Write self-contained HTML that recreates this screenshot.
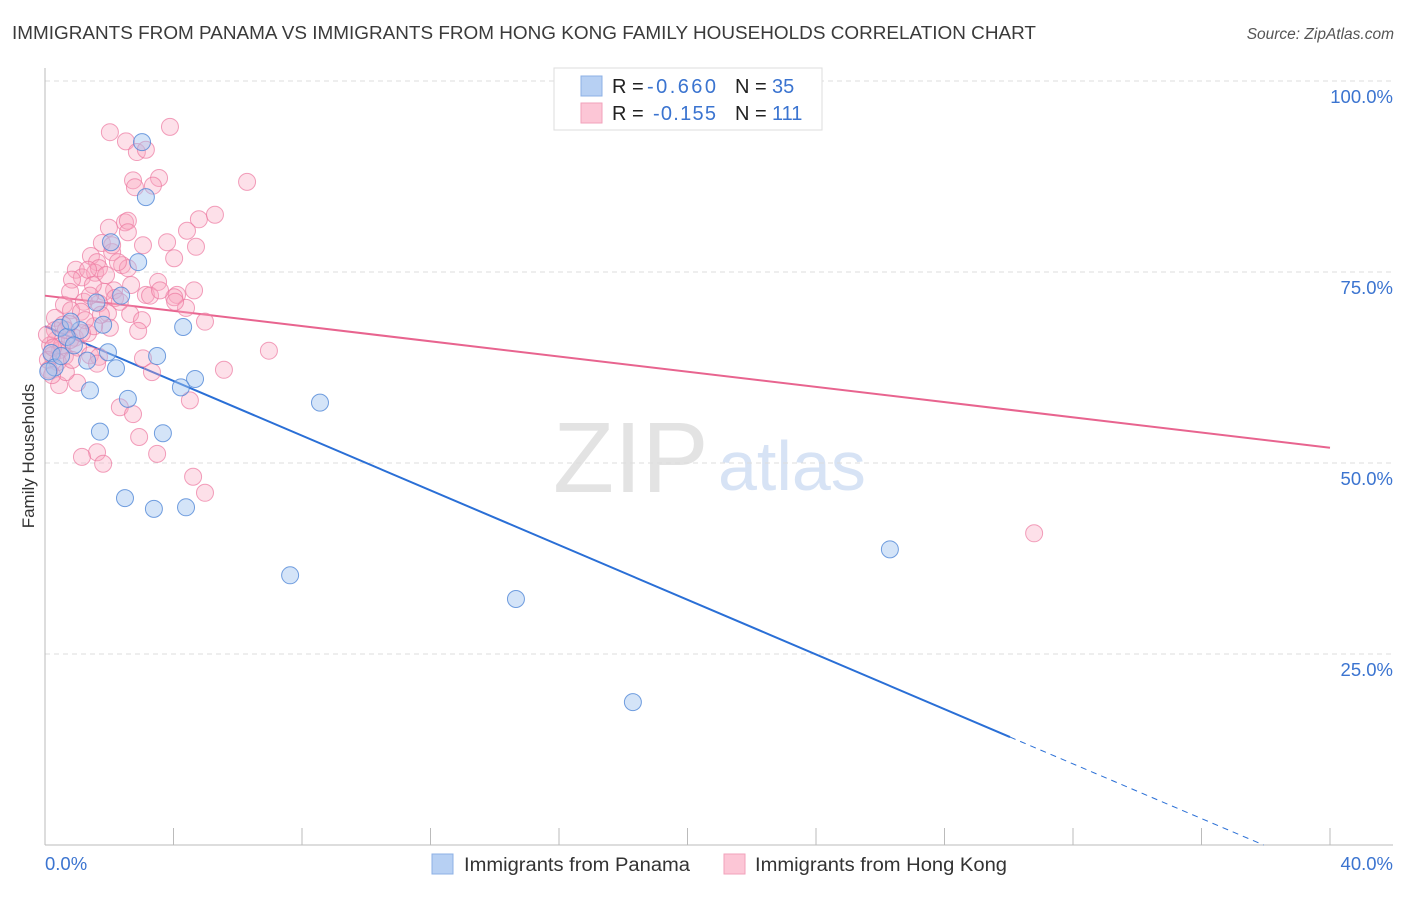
<!DOCTYPE html>
<html><head><meta charset="utf-8"><style>
body{margin:0;background:#fff;font-family:"Liberation Sans",sans-serif;}
svg text{font-family:"Liberation Sans",sans-serif;}
</style></head><body>
<svg id="chart" width="1406" height="892" xmlns="http://www.w3.org/2000/svg">
<text x="12" y="39" font-size="18" fill="#3a3a3a" textLength="1024" lengthAdjust="spacingAndGlyphs">IMMIGRANTS FROM PANAMA VS IMMIGRANTS FROM HONG KONG FAMILY HOUSEHOLDS CORRELATION CHART</text>
<text x="1394" y="39" font-size="15.5" fill="#555" text-anchor="end" font-style="italic">Source: ZipAtlas.com</text>
<text transform="translate(34,456) rotate(-90)" font-size="17" fill="#333" text-anchor="middle">Family Households</text>
<g>
<text x="553" y="492" font-size="100" fill="#e3e3e3" font-family="Liberation Serif, serif">ZIP</text>
<text x="718" y="490" font-size="70" fill="#d7e3f5">atlas</text>
</g>
<g id="grid"></g>
<g id="axes"></g>
<g id="trend"></g>
<g id="pts"></g>
<g>
<rect x="554" y="68" width="268" height="62" fill="#fff" stroke="#ddd"/>
<rect x="581" y="76" width="21" height="20" fill="#b7d0f3" stroke="#8cb0e6"/>
<rect x="581" y="103" width="21" height="20" fill="#fcc6d6" stroke="#f2a2bb"/>
<text x="612" y="93" font-size="20" fill="#222">R = <tspan x="647" fill="#3b74d0" textLength="69">-0.660</tspan><tspan x="735">N = </tspan><tspan x="772" fill="#3b74d0">35</tspan></text>
<text x="612" y="120" font-size="20" fill="#222">R = <tspan x="653" fill="#3b74d0" textLength="63">-0.155</tspan><tspan x="735">N = </tspan><tspan x="772" fill="#3b74d0">111</tspan></text>
</g>
<g>
<rect x="432" y="854" width="21" height="20" fill="#b7d0f3" stroke="#8cb0e6"/>
<text x="464" y="871" font-size="19" fill="#333" textLength="226" lengthAdjust="spacingAndGlyphs">Immigrants from Panama</text>
<rect x="724" y="854" width="21" height="20" fill="#fcc6d6" stroke="#f2a2bb"/>
<text x="755" y="871" font-size="19" fill="#333" textLength="252" lengthAdjust="spacingAndGlyphs">Immigrants from Hong Kong</text>
</g>
</svg>
<script>
const yTicks=[25,50,75,100];
const yTickLabels=["25.0%","50.0%","75.0%","100.0%"];
const xTickLabels=["0.0%","40.0%"];
const blueX=[3.02,3.14,2.05,2.9,2.37,1.81,4.3,1.09,0.47,0.68,1.96,3.49,1.31,2.21,4.67,4.23,1.40,2.58,8.56,1.71,3.67,2.49,3.39,4.39,7.63,14.66,26.3,18.3,0.2,0.3,0.1,0.9,0.5,0.8,1.6];
const blueY=[92.0,84.8,78.9,76.3,71.9,68.1,67.8,67.4,67.7,66.5,64.5,64.0,63.4,62.4,61.0,59.9,59.5,58.4,57.9,54.1,53.9,45.4,44.0,44.2,35.3,32.2,38.7,18.7,64.4,62.5,62,65.4,64,68.5,71];
const pinkX=[2.02,3.89,2.52,2.86,3.14,2.74,3.55,3.36,2.80,6.29,2.49,1.99,2.58,4.79,5.29,4.42,3.05,3.80,4.70,1.77,1.43,2.09,2.40,1.62,4.02,0.96,1.15,1.56,1.68,1.34,2.58,0.84,2.68,3.52,2.15,1.84,3.14,4.11,4.64,4.02,1.68,1.21,0.59,0.81,1.12,1.96,2.65,3.02,4.39,4.98,0.75,0.31,2.02,0.34,0.93,1.34,1.53,0.47,0.62,1.03,1.40,1.68,3.05,3.33,1.62,5.57,6.97,0.44,1.00,4.51,2.33,2.74,2.93,1.62,1.15,1.81,3.49,4.61,4.98,30.79,0.16,0.22,0.09,0.31,0.53,0.78,0.06,0.25,0.40,0.65,0.12,0.84,0.56,1.25,2.18,2.33,1.49,1.90,2.09,2.27,3.27,3.58,2.90,4.05,2.58,1.15,1.74,0.78,1.40,0.22,0.65];
const pinkY=[93.3,94.0,92.1,90.7,91.0,87.0,87.3,86.3,86.1,86.8,81.5,80.8,81.7,81.9,82.5,80.4,78.5,78.9,78.3,78.8,77.1,77.6,75.9,76.3,76.8,75.3,74.3,74.9,75.5,75.3,75.5,74.0,73.3,73.7,72.6,72.4,72.0,72.0,72.6,71.7,70.9,71.1,70.7,70.0,69.8,69.6,69.5,68.7,70.3,68.5,68.2,69.0,67.7,66.1,66.4,67.0,67.9,64.8,64.0,65.1,64.1,63.9,63.7,61.9,63.0,62.2,64.7,60.2,60.5,58.2,57.3,56.4,53.4,51.4,50.8,49.9,51.2,48.2,46.1,40.8,65.4,64.1,63.5,67.4,65.4,66.1,66.8,65.1,63.2,61.9,62.2,63.5,68.1,68.7,71.6,71.1,73.3,74.6,78.5,76.3,71.9,72.6,67.3,71.1,80.2,67.0,69.4,72.4,71.9,61.5,67.4];
const blueTrend=[67.9,-1.79];
const pinkTrend=[71.9,-0.4975];
const X0=45,X1=1330,Y0=845,Y100=81;
const sx=v=>X0+v/40*(X1-X0);
const sy=v=>Y0-v/100*(Y0-Y100);
const NS="http://www.w3.org/2000/svg";
function mk(tag,attrs,parent){const e=document.createElementNS(NS,tag);for(const k in attrs)e.setAttribute(k,attrs[k]);parent.appendChild(e);return e;}
const grid=document.getElementById('grid'),axes=document.getElementById('axes');
yTicks.forEach((t,i)=>{
 const l=mk('line',{x1:X0,x2:1393,y1:sy(t),y2:sy(t),stroke:'#ddd','stroke-dasharray':'5,4'},grid);
 
 
 const tx=mk('text',{x:1393,y:sy(t)+22,'font-size':18.5,fill:'#3b74d0','text-anchor':'end'},axes);
 tx.textContent=yTickLabels[i];
 
 
});
mk('line',{x1:X0,x2:X0,y1:68,y2:Y0,stroke:'#bbb'},axes);
mk('line',{x1:X0,x2:1393,y1:Y0,y2:Y0,stroke:'#bbb'},axes);
for(let i=1;i<=10;i++){mk('line',{x1:sx(i*4),x2:sx(i*4),y1:828,y2:Y0,stroke:'#bbb'},axes);}
const xl0=mk('text',{x:45,y:870,'font-size':18.5,fill:'#3b74d0'},axes);xl0.textContent=xTickLabels[0];


const xl1=mk('text',{x:1393,y:870,'font-size':18.5,fill:'#3b74d0','text-anchor':'end'},axes);xl1.textContent=xTickLabels[1];


const pts=document.getElementById('pts');
pinkX.forEach((x,i)=>{const c=mk('circle',{cx:sx(x),cy:sy(pinkY[i]),r:8.5,fill:'rgba(248,165,192,0.35)',stroke:'rgba(236,120,160,0.7)','stroke-width':1},pts);
 
 });
blueX.forEach((x,i)=>{const c=mk('circle',{cx:sx(x),cy:sy(blueY[i]),r:8.5,fill:'rgba(160,195,240,0.45)',stroke:'rgba(80,135,215,0.8)','stroke-width':1},pts);
 
 });
const tr=document.getElementById('trend');
const bEnd=30.04,bZero=-blueTrend[0]/blueTrend[1];
const b1=mk('line',{x1:sx(0),y1:sy(blueTrend[0]),x2:sx(bEnd),y2:sy(blueTrend[0]+blueTrend[1]*bEnd),stroke:'#2a6fd6','stroke-width':2},tr);


const b2=mk('line',{x1:sx(bEnd),y1:sy(blueTrend[0]+blueTrend[1]*bEnd),x2:sx(bZero),y2:sy(0),stroke:'#2a6fd6','stroke-width':1,'stroke-dasharray':'6,5'},tr);


const p1=mk('line',{x1:sx(0),y1:sy(pinkTrend[0]),x2:sx(40),y2:sy(pinkTrend[0]+pinkTrend[1]*40),stroke:'#e8648f','stroke-width':2},tr);


</script>
</body></html>
